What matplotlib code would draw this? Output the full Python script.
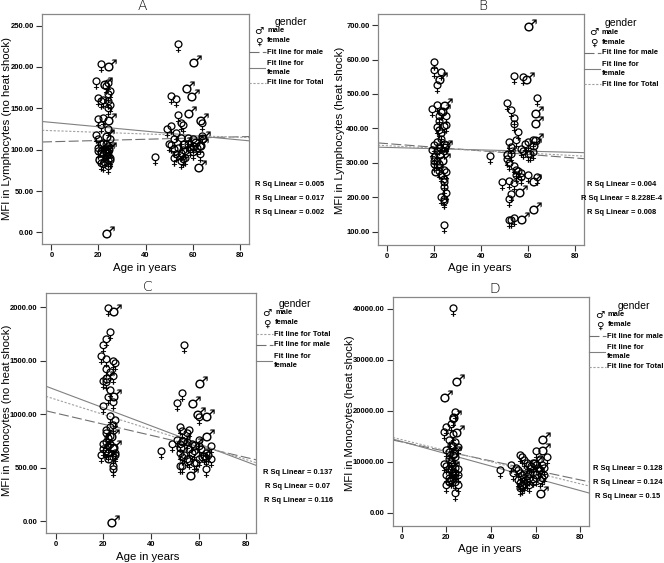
import numpy as np
import matplotlib
matplotlib.use('Agg')
import matplotlib.pyplot as plt
from matplotlib.lines import Line2D

# --- Data (age in years, MFI) ---
# Panel A: lymphocytes, no heat shock
A_male_age = [25, 23, 25, 24, 22, 25, 23, 21, 24, 24, 61, 58, 60, 59, 64, 57, 61, 64, 62, 63, 65]
A_male_mfi = [202, 180, 137, 118, 100, 102, 88, 90, 100, 0, 207, 176, 166, 146, 137, 108, 106, 107, 110, 80, 115]
A_female_age = [21, 19, 24, 23, 24, 25, 20, 21, 22, 24, 25, 24, 20, 22, 21, 24, 19, 20, 21, 23,
                24, 20, 22, 24, 21, 22, 24, 23, 25, 24, 25, 23, 22, 20, 25,
                54, 51, 53, 64, 54, 55, 56, 49, 51, 53, 52, 55, 58, 60, 62, 64, 63, 51, 52, 54,
                56, 59, 60, 53, 55, 57, 52, 56, 57, 55, 58, 63, 44, 50, 60]
A_female_mfi = [201, 180, 178, 174, 165, 168, 160, 157, 158, 156, 152, 148, 135, 136, 128, 122, 115, 110, 104, 97,
                95, 96, 92, 85, 82, 80, 78, 105, 110, 102, 88, 93, 106, 100, 85,
                225, 163, 159, 130, 140, 130, 128, 122, 126, 118, 110, 112, 104, 110, 100, 114, 102, 103, 98, 100,
                97, 98, 95, 92, 94, 96, 88, 86, 88, 84, 112, 92, 89, 105, 102]

# Panel B: lymphocytes, heat shock
B_male_age = [23, 25, 24, 21, 24, 25, 23, 61, 60, 64, 64, 64, 63, 57, 63, 58, 63, 52]
B_male_mfi = [547, 470, 455, 280, 310, 350, 330, 700, 545, 448, 418, 370, 355, 218, 168, 140, 250, 330]
B_female_age = [20, 20, 23, 21, 19, 21, 22, 23, 21, 24, 25, 22, 25, 20, 19, 21, 22, 23, 24, 25,
                20, 21, 22, 24, 20, 22, 23, 24, 25, 24, 24, 24, 25, 23, 24, 24, 24, 23, 22, 21, 20,
                54, 58, 64, 51, 53, 54, 54, 56, 52, 53, 55, 57, 59, 60, 62, 62, 61, 51, 52, 53,
                54, 55, 56, 57, 55, 57, 44, 49, 52, 54, 53, 52, 53, 52, 54, 60, 64, 58, 60]
B_female_mfi = [588, 565, 558, 520, 452, 462, 430, 442, 398, 402, 405, 415, 430, 345, 332, 355, 340, 365, 350, 345,
                310, 300, 292, 330, 290, 270, 260, 275, 268, 248, 240, 225, 208, 195, 190, 185, 113, 380, 390, 330, 300,
                545, 543, 483, 468, 448, 425, 408, 383, 355, 340, 360, 335, 350, 320, 360, 325, 320, 305, 295, 320,
                285, 275, 270, 265, 260, 252, 315, 240, 243, 235, 205, 190, 130, 128, 135, 260, 252, 330, 355]

# Panel C: monocytes, no heat shock
C_male_age = [25, 25, 24, 25, 23, 22, 24, 61, 58, 60, 64, 54, 59, 64, 57, 53, 62]
C_male_mfi = [1975, 1180, 800, 700, 600, 1350, 0, 1300, 1110, 1010, 990, 760, 720, 800, 440, 700, 620]
C_female_age = [22, 23, 21, 20, 19, 21, 24, 25, 21, 23, 24, 20, 21, 23, 22, 24, 20, 23, 25, 24,
                23, 21, 19, 20, 21, 22, 23, 20, 21, 22, 24, 25, 22, 23, 24, 24, 24, 21, 25,
                54, 53, 51, 60, 52, 53, 55, 56, 51, 52, 55, 56, 57, 58, 60, 61, 63, 65, 64, 63,
                52, 53, 54, 55, 56, 58, 60, 62, 44, 49, 63, 53, 52, 59, 65, 57, 60]
C_female_mfi = [1975, 1745, 1680, 1630, 1520, 1500, 1480, 1460, 1400, 1370, 1340, 1290, 1280, 1210, 1140, 1090,
                1060, 960, 930, 880, 860, 830, 600, 700, 720, 760, 780, 650, 640, 620, 580, 620, 680, 700, 660,
                500, 470, 800, 600,
                1630, 1180, 1085, 950, 860, 820, 800, 830, 740, 700, 720, 650, 700, 640, 680, 650, 620, 680, 600,
                570, 620, 580, 600, 560, 540, 520, 560, 590, 640, 700, 470, 500, 500, 520, 560, 620, 740]

# Panel D: monocytes, heat shock
D_male_age = [25, 20, 24, 25, 23, 24, 64, 64, 61, 63, 60, 58, 22]
D_male_mfi = [26000, 23000, 19000, 16000, 9000, 12000, 14700, 12500, 7800, 4200, 10000, 8000, 6500]
D_female_age = [23, 24, 23, 22, 20, 19, 23, 21, 22, 24, 25, 20, 21, 23, 24, 22, 19, 20, 21, 22,
                23, 24, 25, 20, 21, 22, 23, 24, 25, 20, 24, 22, 24, 25, 21, 23,
                60, 62, 53, 54, 55, 56, 57, 58, 59, 60, 62, 63, 64, 51, 52, 53, 54, 55, 56, 57,
                59, 60, 62, 63, 64, 52, 53, 54, 55, 56, 57, 44, 49, 53, 54, 65, 61, 50]
D_female_mfi = [39800, 19500, 18000, 17000, 16500, 15500, 15000, 14000, 13000, 13500, 12500, 12000, 11500,
                11000, 10500, 10000, 9200, 8800, 8200, 8000, 7700, 7400, 7000, 7000, 6500, 6000, 6200, 5600,
                5000, 5000, 3500, 9500, 8500, 8200, 10200, 12800,
                11800, 10200, 11000, 10500, 10000, 9500, 9000, 8800, 9500, 9000, 8000, 9000, 8500, 8500, 8000,
                7500, 7000, 7200, 6800, 6500, 6200, 6500, 6000, 6400, 7000, 6000, 5500, 5000, 5200, 5600, 5000,
                8000, 9000, 4500, 4700, 10500, 8500, 7500]

# fit lines: (intercept, slope)
A_fit = {'male': (109.6, 0.075), 'female': (133.0, -0.265), 'total': (123.0, -0.10)}
B_fit = {'male': (356.0, -0.52), 'female': (345.0, -0.18), 'total': (350.0, -0.36)}
C_fit = {'male': (1009.0, -5.2), 'female': (1226.0, -8.4), 'total': (1137.0, -7.05)}
D_fit = {'male': (13930.0, -93.0), 'female': (14000.0, -120.0), 'total': (14370.0, -108.0)}

A_rsq = ['0.005', '0.017', '0.002']
B_rsq = ['0.004', '8.228E-4', '0.008']
C_rsq = ['0.137', '0.07', '0.116']
D_rsq = ['0.128', '0.124', '0.15']

W, H = 664, 563
fig = plt.figure(figsize=(W / 100, H / 100), dpi=100)


def fx(x):
    return x / W


def fy(y):
    return 1 - y / H


line_style = {'male': dict(ls=(0, (9, 3)), color='#707070', lw=0.8),
              'female': dict(ls='-', color='#808080', lw=0.8),
              'total': dict(ls=(0, (2, 1.5)), color='#a0a0a0', lw=0.8)}
line_label = {'male': 'Fit line for male', 'female': 'Fit line for\nfemale', 'total': 'Fit line for Total'}
small = dict(family='Liberation Sans', fontweight='bold', fontsize=5.4)
tickf = dict(family='Liberation Sans', fontweight='bold', fontsize=5.5)
MALE, FEMALE = '$\u2642$', '$\u2640$'


def panel(box, title, m_age, m_mfi, f_age, f_mfi, fit, ylim, yticks, ylabel, order, rsq,
          leg_x, leg_y, gender_x, rsq_x, rsq_y, ylab_pos, xlab_pos, title_pos):
    left, top, right, bottom = box
    ax = fig.add_axes([fx(left), fy(bottom), fx(right - left), (bottom - top) / H])
    xlim = (-4, 84)
    xs = np.array(xlim)
    for key in ['male', 'female', 'total']:
        a, b = fit[key]
        ax.plot(xs, a + b * xs, **line_style[key], zorder=1)
    ax.scatter(m_age, m_mfi, marker=MALE, s=80, c='black', linewidths=0, zorder=2)
    ax.scatter(f_age, f_mfi, marker=FEMALE, s=80, c='black', linewidths=0, zorder=2)
    ax.set_xlim(*xlim)
    ax.set_ylim(*ylim)
    ax.set_xticks([0, 20, 40, 60, 80])
    ax.set_yticks(yticks)
    ax.set_yticklabels(['%.2f' % v for v in yticks], **tickf)
    ax.set_xticklabels(['0', '20', '40', '60', '80'], **tickf)
    ax.tick_params(direction='out', length=4, width=0.8, color='#333333', pad=2)
    for sp in ax.spines.values():
        sp.set_color('#888888')
        sp.set_linewidth(0.9)

    # axis labels and title placed in pixels
    fig.text(fx(ylab_pos[0]), fy(ylab_pos[1]), ylabel, rotation=90, ha='center', va='center',
             family='Liberation Sans', fontsize=8.2)
    fig.text(fx(xlab_pos[0]), fy(xlab_pos[1]), 'Age in years', ha='center', va='center',
             family='Liberation Sans', fontsize=8.2)
    fig.text(fx(title_pos[0]), fy(title_pos[1]), title, ha='center', va='center',
             family='DejaVu Sans', fontsize=10, fontweight='light')

    # legend drawn on the figure, SPSS style
    fig.text(fx(gender_x), fy(leg_y), 'gender', ha='center', va='center',
             family='Liberation Sans', fontsize=7.5)
    fig.text(fx(leg_x + 1), fy(leg_y + 9), '\u2642', ha='center', va='center',
             family='DejaVu Sans', fontsize=7.5)
    fig.text(fx(leg_x + 9), fy(leg_y + 9), 'male', ha='left', va='center', **small)
    fig.text(fx(leg_x + 1), fy(leg_y + 20), '\u2640', ha='center', va='center',
             family='DejaVu Sans', fontsize=7.5)
    fig.text(fx(leg_x + 9), fy(leg_y + 19), 'female', ha='left', va='center', **small)
    y = leg_y + 30
    for key in order:
        if key == 'female':
            ly = y + 5
            fig.text(fx(right + 18), fy(ly), line_label[key], ha='left', va='center',
                     linespacing=1.3, **small)
            fig.add_artist(Line2D([fx(right), fx(right + 16)], [fy(ly), fy(ly)], **line_style[key]))
            y += 20
        else:
            fig.text(fx(right + 18), fy(y), line_label[key], ha='left', va='center', **small)
            fig.add_artist(Line2D([fx(right), fx(right + 17)], [fy(y), fy(y)], **line_style[key]))
            y += 11
    for i, r in enumerate(rsq):
        fig.text(fx(rsq_x), fy(rsq_y + 14 * i), 'R Sq Linear = ' + r, ha='center', va='center', **small)
    return ax


panel((42, 14, 249, 244), 'A', A_male_age, A_male_mfi, A_female_age, A_female_mfi, A_fit, (-14, 264),
      [0, 50, 100, 150, 200, 250], 'MFI in Lymphocytes (no heat shock)',
      ['male', 'female', 'total'], A_rsq, 258, 22, 291, 290, 185, (7, 128), (145, 268), (142, 6))
panel((378, 14, 584, 245), 'B', B_male_age, B_male_mfi, B_female_age, B_female_mfi, B_fit, (62, 732),
      [100, 200, 300, 400, 500, 600, 700], 'MFI in Lymphocytes (heat shock)',
      ['male', 'female', 'total'], B_rsq, 593, 23, 621, 622, 185, (340, 130), (480, 268), (483, 6))
panel((46, 293, 256, 533), 'C', C_male_age, C_male_mfi, C_female_age, C_female_mfi, C_fit, (-112, 2131),
      [0, 500, 1000, 1500, 2000], 'MFI in Monocytes (no heat shock)',
      ['total', 'male', 'female'], C_rsq, 266, 304, 295, 298, 473, (7, 410), (148, 557), (148, 287))
panel((393, 297, 589, 526), 'D', D_male_age, D_male_mfi, D_female_age, D_female_mfi, D_fit, (-2550, 42350),
      [0, 10000, 20000, 30000, 40000], 'MFI in Monocytes (heat shock)',
      ['male', 'female', 'total'], D_rsq, 599, 306, 634, 628, 468, (350, 413), (490, 549), (495, 289))

fig.savefig('out.png', dpi=100, facecolor='white')
